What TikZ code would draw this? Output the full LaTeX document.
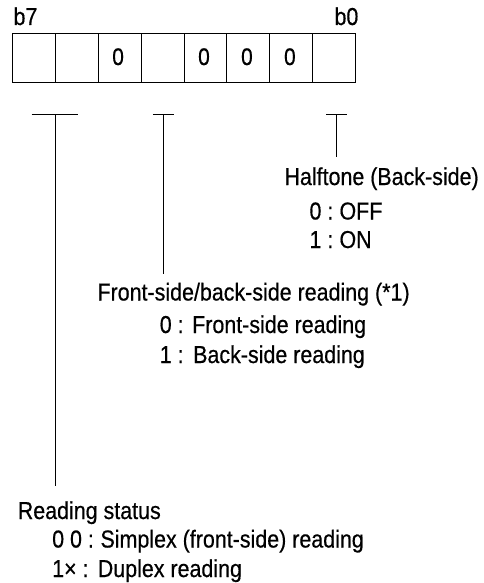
\documentclass[tikz,border=0pt]{standalone}
\usepackage{fontspec}
\setmainfont[FakeStretch=0.875,FakeBold=0.5]{Liberation Sans}
\begin{document}
\begin{tikzpicture}[x=1pt,y=-1pt,line width=1pt,
  txt/.style={anchor=base west,inner sep=0pt,font=\fontsize{24.5}{27}\selectfont},
  bitcell/.style={draw,minimum width=42.95pt,minimum height=48.5pt,inner sep=0pt,anchor=north west},
  bitval/.style={inner sep=0pt,font=\fontsize{24}{27}\selectfont}]
\useasboundingbox (0,0) rectangle (484,583);
% register cells b7..b0
\foreach \i in {0,...,7}{
  \node[bitcell] (c\i) at ({11.7+\i*42.95},33.5) {};
}
\foreach \i in {2,4,5,6}{
  \node[bitval] (v\i) at ([xshift=-1.5pt,yshift=1.5pt]c\i.center) {0};
}
\node[txt] (b7) at (13,25) {b7};
\node[txt] (b0) at (334,25) {b0};
% T markers
\coordinate (t1) at (55,114.3);
\coordinate (t1b) at (55,486);
\coordinate (t2) at (163.3,114.3);
\coordinate (t2b) at (163.3,273.5);
\coordinate (t3) at (336.7,114.3);
\coordinate (t3b) at (336.7,157);
\draw ([xshift=-23.3pt]t1) -- ([xshift=23.3pt]t1);
\draw (t1) -- (t1b);
\draw ([xshift=-10.5pt]t2) -- ([xshift=10.5pt]t2);
\draw (t2) -- (t2b);
\draw ([xshift=-10.3pt]t3) -- ([xshift=10.3pt]t3);
\draw (t3) -- (t3b);
% Halftone
\node[txt] (ht) at (284,185) {Halftone (Back-side)};
\node[txt] (ht0k) at (309,219.5) {0 :};
\node[txt] (ht0v) at (339,219.5) {OFF};
\node[txt] (ht1k) at (309,248) {1 :};
\node[txt] (ht1v) at (339,248) {ON};
% Front/back
\node[txt] (fb) at (97,300.5) {Front-side/back-side reading (*1)};
\node[txt] (fb0k) at (159.3,333) {0 :};
\node[txt] (fb0v) at (191.7,333) {Front-side reading};
\node[txt] (fb1k) at (159.3,363) {1 :};
\node[txt] (fb1v) at (192.7,363) {Back-side reading};
% Reading status
\node[txt] (rs) at (17.3,519) {Reading status};
\node[txt] (rs0k) at (51.7,547.5) {0 0 :};
\node[txt] (rs0v) at (100,547.5) {Simplex (front-side) reading};
\node[txt] (rs1k) at (51.7,577) {1× :};
\node[txt] (rs1v) at (97.3,577) {Duplex reading};
\end{tikzpicture}
\end{document}
